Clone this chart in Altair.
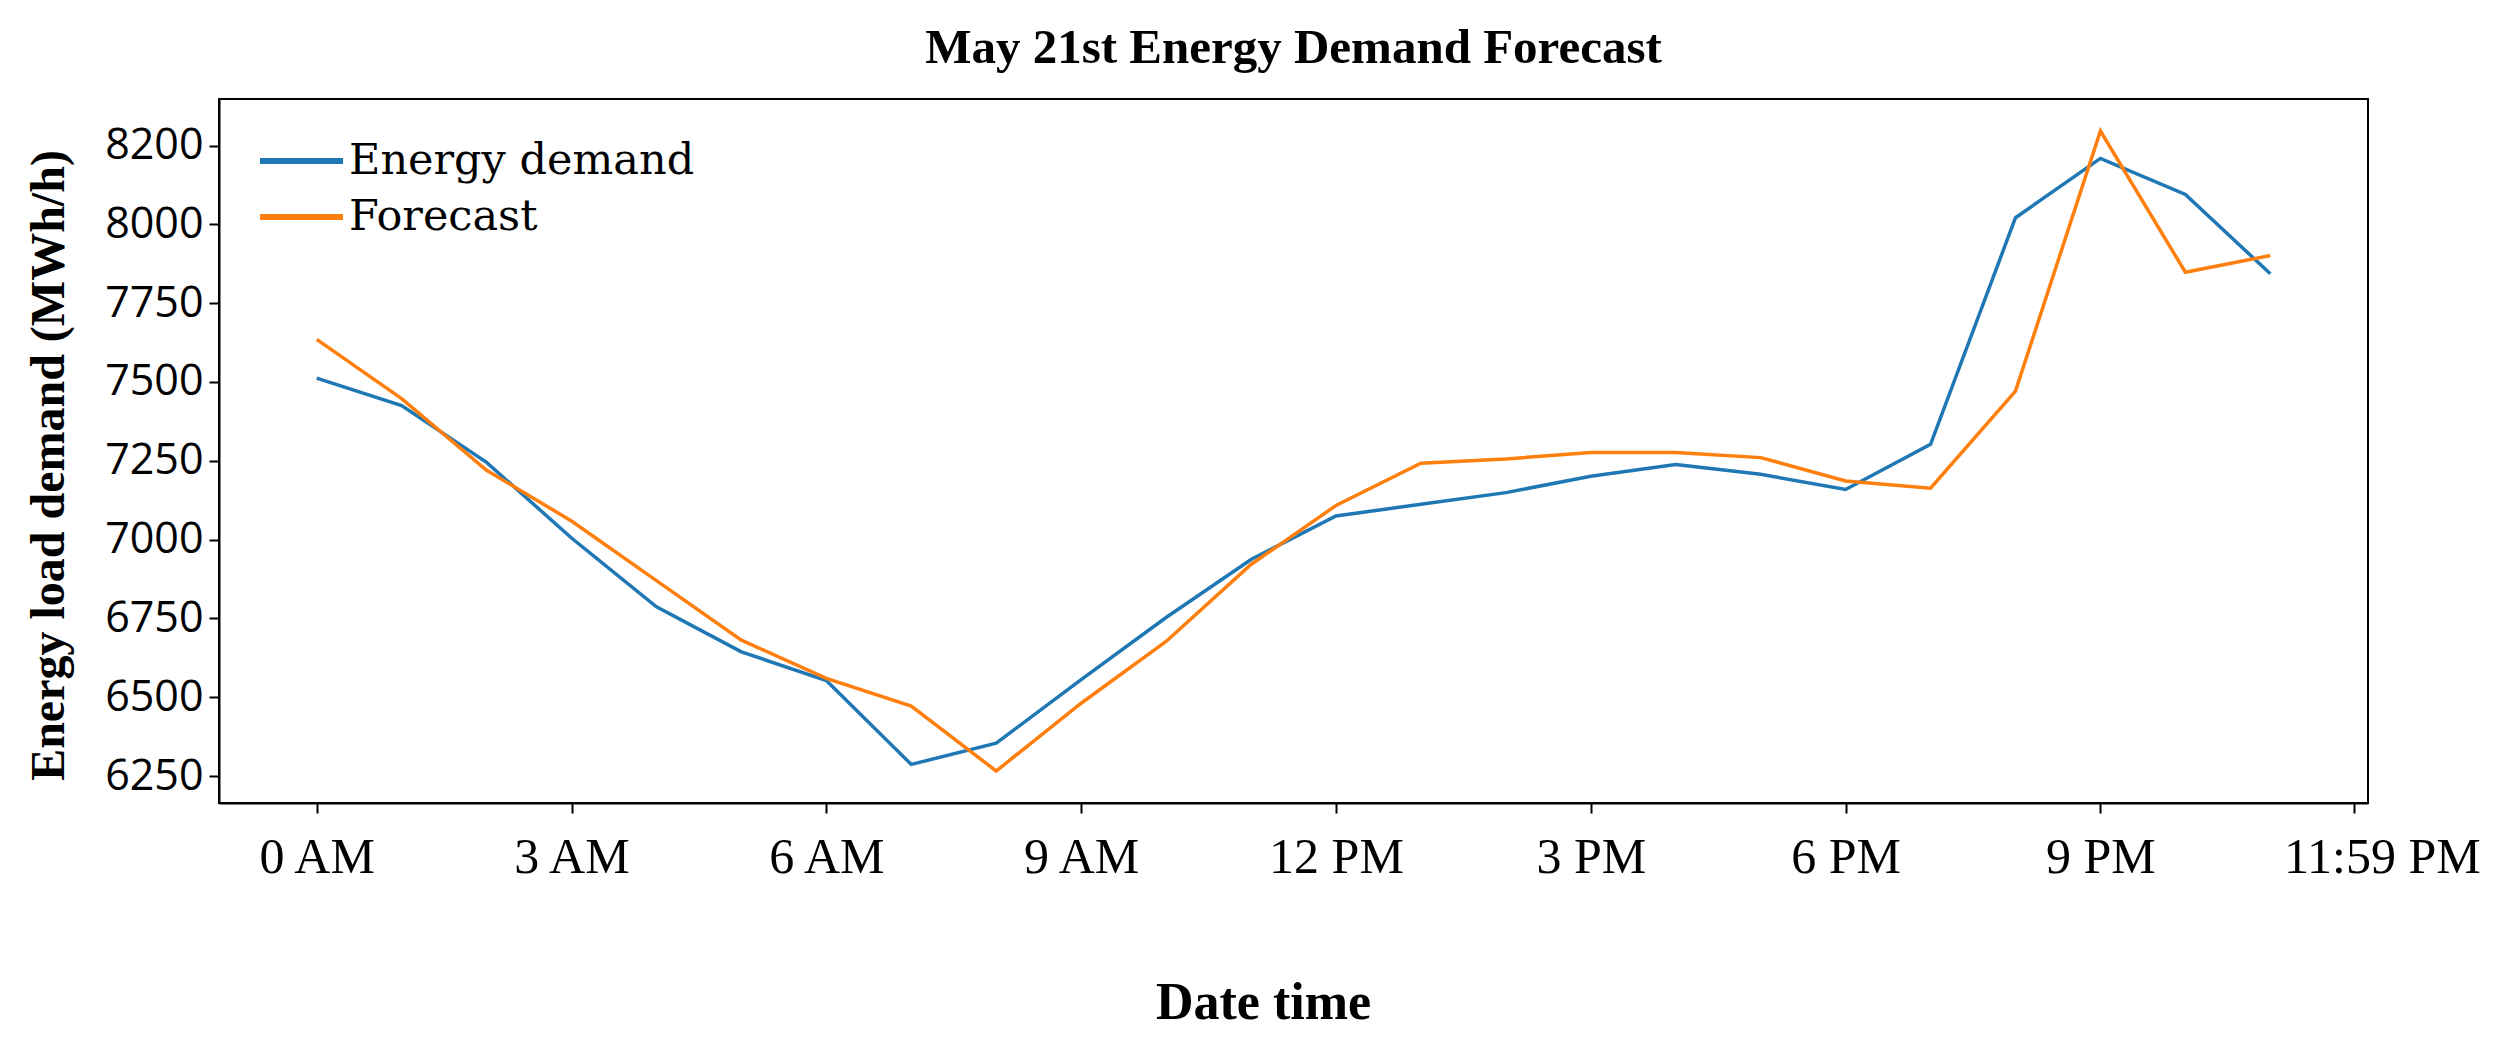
import altair as alt
import pandas as pd

# ---- data ----
hours = list(range(24))
energy_demand = [7512, 7425, 7245, 7005, 6787, 6644, 6553, 6287, 6354, 6556, 6753, 6937,
                 7075, 7112, 7149, 7201, 7238, 7207, 7159, 7302, 8021, 8209, 8095, 7843]
forecast = [7635, 7447, 7220, 7059, 6870, 6681, 6560, 6472, 6266, 6481, 6677, 6921,
            7108, 7242, 7256, 7276, 7276, 7260, 7186, 7163, 7471, 8296, 7848, 7901]

series_names = ["Energy demand", "Forecast"]
series_colors = ["#1f77b4", "#ff7f0e"]

x_tick_values = [0, 3, 6, 9, 12, 15, 18, 21, 23.983]
x_tick_labels = ["0 AM", "3 AM", "6 AM", "9 AM", "12 PM", "3 PM", "6 PM", "9 PM", "11:59 PM"]
y_tick_values = [6250, 6500, 6750, 7000, 7250, 7500, 7750, 8000, 8250]
y_tick_labels = ["6250", "6500", "6750", "7000", "7250", "7500", "7750", "8000", "8200"]

title_text = "May 21st Energy Demand Forecast"
x_title = "Date time"
y_title = "Energy load demand (MWh/h)"

rows = []
for name, vals in zip(series_names, [energy_demand, forecast]):
    for h, v in zip(hours, vals):
        rows.append({"hour": h, "value": v, "series": name})
df = pd.DataFrame(rows)


def label_expr(values, labels):
    parts = [f"abs(datum.value - {v}) < 0.01 ? '{l}'" for v, l in zip(values, labels)]
    return " : ".join(parts) + " : ''"


x_axis = alt.Axis(
    values=x_tick_values,
    labelExpr=label_expr(x_tick_values, x_tick_labels),
    title=x_title,
    grid=False,
    tickSize=10, tickWidth=2, tickColor="black",
    domainColor="black", domainWidth=2,
    labelFont="Liberation Serif", labelFontSize=50, labelColor="black",
    labelPadding=19, labelFlush=False, labelOverlap=False, labelLimit=500,
    labelOffset={"condition": {"test": "datum.value > 23", "value": 28}, "value": 0},
    titleFont="Liberation Serif", titleFontSize=52, titleFontWeight="bold", titleColor="black",
    titleX=1044, titleY=215, titleBaseline="alphabetic", titleAlign="center", titleLimit=1000,
)

y_axis = alt.Axis(
    values=y_tick_values,
    labelExpr=label_expr(y_tick_values, y_tick_labels),
    title=y_title,
    grid=False,
    tickSize=10, tickWidth=2, tickColor="black",
    domainColor="black", domainWidth=2,
    labelFont="Open Sans", labelFontSize=43, labelColor="black",
    labelPadding=6, labelFlush=False, labelOverlap=False, labelLimit=500,
    titleFont="Liberation Serif", titleFontSize=48, titleFontWeight="bold", titleColor="black",
    titleAngle=270, titleX=-156, titleY=366, titleBaseline="alphabetic", titleAlign="center",
    titleLimit=1000,
)

legend = alt.Legend(
    title=None, orient="none", legendX=38, legendY=39,
    symbolType="M-1,0H3.15", symbolSize=1600, symbolStrokeWidth=6,
    labelFont="DejaVu Serif", labelFontSize=43, labelColor="black", labelLimit=800,
    labelOffset=46, rowPadding=11, padding=0,
)

chart = alt.Chart(df).mark_line(strokeWidth=3.5, clip=True).encode(
    x=alt.X("hour:Q", scale=alt.Scale(domain=[-1.15, 24.15], nice=False, zero=False), axis=x_axis),
    y=alt.Y("value:Q", scale=alt.Scale(domain=[6164.5, 8397.5], nice=False, zero=False), axis=y_axis),
    color=alt.Color("series:N", scale=alt.Scale(domain=series_names, range=series_colors), legend=legend),
).properties(
    width=2149,
    height=704,
    title=alt.TitleParams(
        text=title_text, font="Liberation Serif", fontSize=49, fontWeight="bold", color="black",
        anchor="middle", frame="group", baseline="alphabetic", offset=-13,
    ),
    padding={"left": 211, "top": 91, "right": 128, "bottom": 233},
    autosize="none",
).configure_view(stroke="black", strokeWidth=2)

chart.save("out.html", embed_options={"renderer": "svg", "actions": False})
